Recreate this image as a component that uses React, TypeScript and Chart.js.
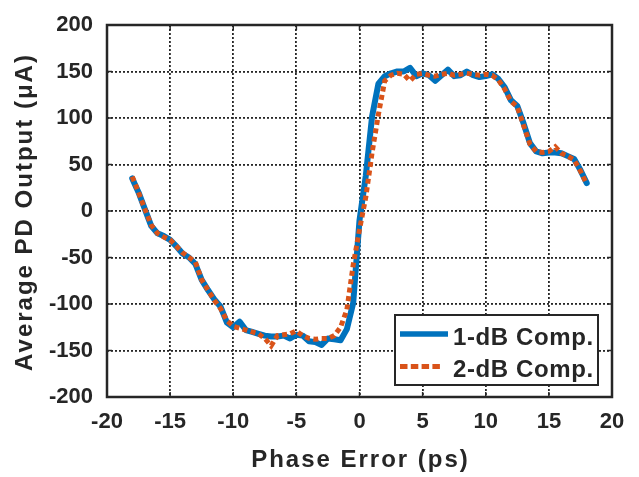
import React, { useEffect, useRef } from "react";
import { Chart, registerables } from "chart.js";

Chart.register(...registerables);

// Phase error (ps)
const phaseError = [
  -18, -17.5, -17, -16.5, -16, -15.5, -15, -14.5, -14, -13.5, -13, -12.5,
  -12, -11.5, -11, -10.5, -10, -9.5, -9, -8.5, -8, -7.5, -7, -6.5,
  -6, -5.5, -5, -4.5, -4, -3.5, -3, -2.5, -2, -1.5, -1, -0.5,
  0, 0.5, 1, 1.5, 2, 2.5, 3, 3.5, 4, 4.5, 5, 5.5,
  6, 6.5, 7, 7.5, 8, 8.5, 9, 9.5, 10, 10.5, 11, 11.5,
  12, 12.5, 13, 13.5, 14, 14.5, 15, 15.5, 16, 16.5, 17, 17.5, 18,
];

// Average PD output (uA), 1-dB compression
const comp1dB = [
  35, 20, 2, -16, -24, -27, -31, -38, -46, -50, -57, -74,
  -85, -95, -103, -120, -125, -119, -128, -130, -132, -134, -135, -135,
  -134, -137, -133, -134, -140, -141, -144, -137, -138, -139, -127, -99,
  -10, 38, 102, 137, 145, 148, 150, 150, 154, 145, 148, 146,
  140, 146, 152, 145, 146, 150, 146, 144, 145, 147, 142, 133,
  119, 113, 94, 73, 64, 62, 63, 63, 62, 59, 56, 44, 30,
];

// Average PD output (uA), 2-dB compression
const comp2dB = [
  37, 20, 2, -15, -24, -28, -31, -38, -45, -50, -55, -74,
  -85, -96, -105, -118, -124, -126, -128, -130, -132, -137, -145, -134,
  -133, -132, -129, -134, -137, -138, -137, -137, -134, -125, -106, -58,
  -20, 15, 63, 104, 140, 146, 148, 147, 140, 147, 148, 146,
  145, 147, 148, 146, 147, 148, 147, 146, 147, 146, 141, 131,
  118, 112, 92, 72, 64, 63, 64, 69, 62, 59, 55, 43, 29,
];

const seriesLabels = ["1-dB Comp.", "2-dB Comp."];
const xTitle = "Phase Error (ps)";
const yTitle = "Average PD Output (\u03bcA)";

const BLUE = "#0072BD";
const ORANGE = "#D95319";
const INK = "#262626";
const FONT = "'Liberation Sans', Arial, Helvetica, sans-serif";

const framePlugin = {
  id: "matlabFrame",
  afterDraw(chart: any) {
    const { ctx, chartArea } = chart;
    const { left, right, top, bottom } = chartArea;
    const xs = chart.scales.x;
    const ys = chart.scales.y;
    ctx.save();
    // inward ticks
    ctx.strokeStyle = INK;
    ctx.lineWidth = 1.5;
    ctx.beginPath();
    xs.ticks.forEach((t: any) => {
      const px = xs.getPixelForValue(t.value);
      ctx.moveTo(px, bottom);
      ctx.lineTo(px, bottom - 5);
      ctx.moveTo(px, top);
      ctx.lineTo(px, top + 5);
    });
    ys.ticks.forEach((t: any) => {
      const py = ys.getPixelForValue(t.value);
      ctx.moveTo(left, py);
      ctx.lineTo(left + 5, py);
      ctx.moveTo(right, py);
      ctx.lineTo(right - 5, py);
    });
    ctx.stroke();
    // box
    ctx.lineWidth = 2.5;
    ctx.strokeRect(left, top, right - left, bottom - top);

    // axis titles
    ctx.fillStyle = INK;
    ctx.font = `bold 24px ${FONT}`;
    (ctx as any).letterSpacing = "2px";
    ctx.textAlign = "center";
    ctx.textBaseline = "alphabetic";
    ctx.fillText(xTitle, (left + right) / 2 + 1, 467);
    ctx.save();
    ctx.translate(32, (top + bottom) / 2 + 1);
    ctx.rotate(-Math.PI / 2);
    ctx.fillText(yTitle, 0, 0);
    ctx.restore();

    // legend
    const lx = 395, ly = 315, lw = 203, lh = 70;
    ctx.fillStyle = "#ffffff";
    ctx.fillRect(lx, ly, lw, lh);
    ctx.strokeStyle = INK;
    ctx.lineWidth = 2;
    ctx.strokeRect(lx, ly, lw, lh);

    ctx.lineWidth = 5.5;
    ctx.lineCap = "butt";
    ctx.strokeStyle = BLUE;
    ctx.beginPath();
    ctx.moveTo(400, 334);
    ctx.lineTo(448, 334);
    ctx.stroke();

    ctx.lineWidth = 5;
    ctx.strokeStyle = ORANGE;
    ctx.setLineDash([7.5, 3.3]);
    ctx.beginPath();
    ctx.moveTo(400, 366.5);
    ctx.lineTo(442, 366.5);
    ctx.stroke();
    ctx.setLineDash([]);

    ctx.fillStyle = INK;
    ctx.font = `bold 24px ${FONT}`;
    (ctx as any).letterSpacing = "0.6px";
    ctx.textAlign = "left";
    ctx.fillText(seriesLabels[0], 453, 345);
    ctx.fillText(seriesLabels[1], 453, 377);
    (ctx as any).letterSpacing = "0px";
    ctx.restore();
  },
};

export default function App() {
  const ref = useRef<HTMLCanvasElement>(null);

  useEffect(() => {
    const canvas = ref.current;
    if (!canvas) return;
    const tickFont = { family: FONT, size: 22, weight: "bold" as const, lineHeight: 1 };
    const chart = new Chart(canvas, {
      type: "line",
      data: {
        datasets: [
          {
            label: seriesLabels[0],
            data: phaseError.map((x, i) => ({ x, y: comp1dB[i] })),
            borderColor: BLUE,
            backgroundColor: BLUE,
            borderWidth: 6,
            pointRadius: 0,
            tension: 0,
            fill: false,
            borderJoinStyle: "round",
            borderCapStyle: "round",
            order: 1,
          },
          {
            label: seriesLabels[1],
            data: phaseError.map((x, i) => ({ x, y: comp2dB[i] })),
            borderColor: ORANGE,
            backgroundColor: ORANGE,
            borderWidth: 5,
            borderDash: [5, 3.5],
            pointRadius: 0,
            tension: 0,
            fill: false,
            borderCapStyle: "butt",
            order: 0,
          },
        ],
      },
      options: {
        responsive: false,
        animation: false,
        devicePixelRatio: 1,
        layout: { padding: { top: 11, right: 27, left: 0, bottom: 0 } },
        plugins: {
          legend: { display: false },
          tooltip: { enabled: false },
        },
        scales: {
          x: {
            type: "linear",
            min: -20,
            max: 20,
            ticks: {
              stepSize: 5,
              color: INK,
              font: tickFont,
              padding: 14,
              maxRotation: 0,
              autoSkip: false,
            },
            grid: { color: INK, lineWidth: 1.8, drawTicks: false },
            border: { display: false, dash: [2, 2] },
            afterFit: (s: any) => {
              s.height = 80;
            },
          },
          y: {
            type: "linear",
            min: -200,
            max: 200,
            ticks: {
              stepSize: 50,
              color: INK,
              font: tickFont,
              padding: 14,
            },
            grid: { color: INK, lineWidth: 1.8, drawTicks: false },
            border: { display: false, dash: [2, 2] },
            afterFit: (s: any) => {
              s.width = 107;
            },
          },
        },
      },
      plugins: [framePlugin],
    });
    return () => chart.destroy();
  }, []);

  return (
    <div style={{ position: "absolute", left: 0, top: 0, width: 639, height: 477, background: "#fff" }}>
      <canvas ref={ref} width={639} height={477} style={{ display: "block" }} />
    </div>
  );
}
